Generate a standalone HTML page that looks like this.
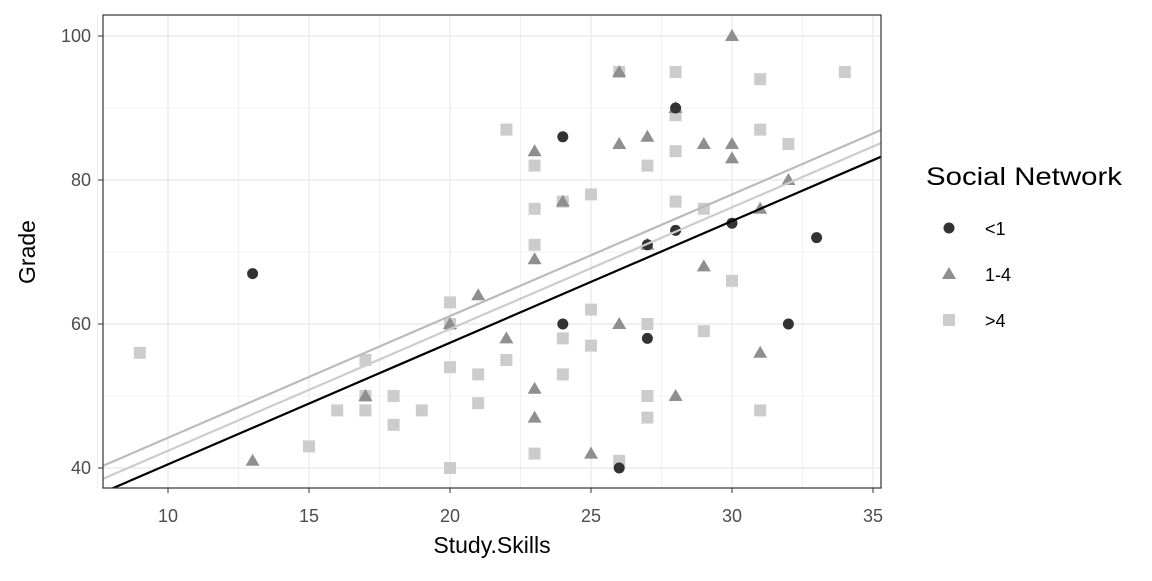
<!DOCTYPE html>
<html><head><meta charset="utf-8"><style>
body{margin:0;background:#fff;font-family:"Liberation Sans",sans-serif}
</style></head><body>
<svg id="c" width="1152" height="576" xmlns="http://www.w3.org/2000/svg"></svg>
<script>
const xTicks=[10,15,20,25,30,35];
const yTicks=[40,60,80,100];
const lowX=[13,24,24,26,27,27,28,28,30,32,33];
const lowY=[67,86,60,40,71,58,90,73,74,60,72];
const midX=[13,17,20,21,22,23,23,23,23,24,25,26,26,26,27,27,28,28,29,29,30,30,30,31,31,32];
const midY=[41,50,60,64,58,84,69,51,47,77,42,95,85,60,86,71,90,50,85,68,100,85,83,76,56,80];
const highX=[9,15,16,17,17,17,18,18,19,20,20,20,20,21,21,22,22,23,23,23,23,24,24,24,25,25,25,26,26,27,27,27,27,28,28,28,28,29,29,30,31,31,31,32,34];
const highY=[56,43,48,55,50,48,50,46,48,63,60,54,40,53,49,87,55,82,76,71,42,77,58,53,78,62,57,95,41,82,60,50,47,95,89,84,77,76,59,66,94,87,48,85,95];
const lineIntercepts=[23.6,25.5,27.3];
const lineSlope=1.69;

const svg=document.getElementById('c');const NS='http://www.w3.org/2000/svg';
const L=103,R=881,T=15,B=488;
const sx=v=>168+(v-10)*28.2, sy=v=>468-(v-40)*7.2;
function el(t,a,p){const e=document.createElementNS(NS,t);for(const k in a)e.setAttribute(k,a[k]);(p||svg).appendChild(e);return e;}
const clip=el('clipPath',{id:'cp'});el('rect',{x:L,y:T,width:R-L,height:B-T},clip);
for(let i=0;i<xTicks.length;i++){const v=xTicks[i];
 const g=el('line',{x1:sx(v),x2:sx(v),y1:T,y2:B,stroke:'#ebebeb','stroke-width':1.4});
 
 if(i<xTicks.length-1){const m=el('line',{x1:sx(v+2.5),x2:sx(v+2.5),y1:T,y2:B,stroke:'#ebebeb','stroke-width':0.7});}
 const tk=el('line',{x1:sx(v),x2:sx(v),y1:B,y2:B+5,stroke:'#333','stroke-width':1});
 const t=el('text',{x:sx(v),y:B+34,'text-anchor':'middle','font-size':18,fill:'#4d4d4d'});t.textContent=v;}
const mx=el('line',{x1:sx(7.5),x2:sx(7.5),y1:T,y2:B,stroke:'#ebebeb','stroke-width':0.7});
for(let i=0;i<yTicks.length;i++){const v=yTicks[i];
 const g=el('line',{x1:L,x2:R,y1:sy(v),y2:sy(v),stroke:'#ebebeb','stroke-width':1.4});
 
 const m=el('line',{x1:L,x2:R,y1:sy(v+10),y2:sy(v+10),stroke:'#ebebeb','stroke-width':0.7});
 const tk=el('line',{x1:L-5,x2:L,y1:sy(v),y2:sy(v),stroke:'#333','stroke-width':1});
 const t=el('text',{x:L-12,y:sy(v)+6,'text-anchor':'end','font-size':18,fill:'#4d4d4d'});t.textContent=v;}
const g=el('g',{'clip-path':'url(#cp)'});
function circ(x,y,c,p){return el('circle',{cx:x,cy:y,r:5.5,fill:c},p);}
function tri(x,y,c,p){return el('polygon',{points:`${x},${y-7} ${x-7},${y+5} ${x+7},${y+5}`,fill:c},p);}
function sq(x,y,c,p){return el('rect',{x:x-6,y:y-6,width:12,height:12,fill:c},p);}
highX.forEach((v,i)=>{const e=sq(sx(v),sy(highY[i]),'#cccccc',g);});
midX.forEach((v,i)=>{const e=tri(sx(v),sy(midY[i]),'#8f8f8f',g);});
lowX.forEach((v,i)=>{const e=circ(sx(v),sy(lowY[i]),'#333333',g);});
const lc=['#000','#cccccc','#bbbbbb'];
lineIntercepts.forEach((b,i)=>{const x0=7,x1=36;
 const e=el('line',{x1:sx(x0),y1:sy(b+lineSlope*x0),x2:sx(x1),y2:sy(b+lineSlope*x1),stroke:lc[i],'stroke-width':2.2},g);
 });
const bd=el('rect',{x:L,y:T,width:R-L,height:B-T,fill:'none',stroke:'#333','stroke-width':1.2});
let t=el('text',{x:492,y:553,'text-anchor':'middle','font-size':23,fill:'#000'});t.textContent='Study.Skills';
t=el('text',{x:0,y:0,'text-anchor':'middle','font-size':23,fill:'#000',transform:'translate(35,252) rotate(-90)'});t.textContent='Grade';
t=el('text',{x:926,y:185,'font-size':25,fill:'#000',textLength:196,lengthAdjust:'spacingAndGlyphs'});t.textContent='Social Network';
const labs=['<1','1-4','>4'],fns=[circ,tri,sq],cols=['#333333','#8f8f8f','#cccccc'];
labs.forEach((s,i)=>{const y=228+i*46;const e=fns[i](949,y,cols[i]);
 const tt=el('text',{x:985,y:y+7,'font-size':18,fill:'#000'});tt.textContent=s;});
</script>
</body></html>
